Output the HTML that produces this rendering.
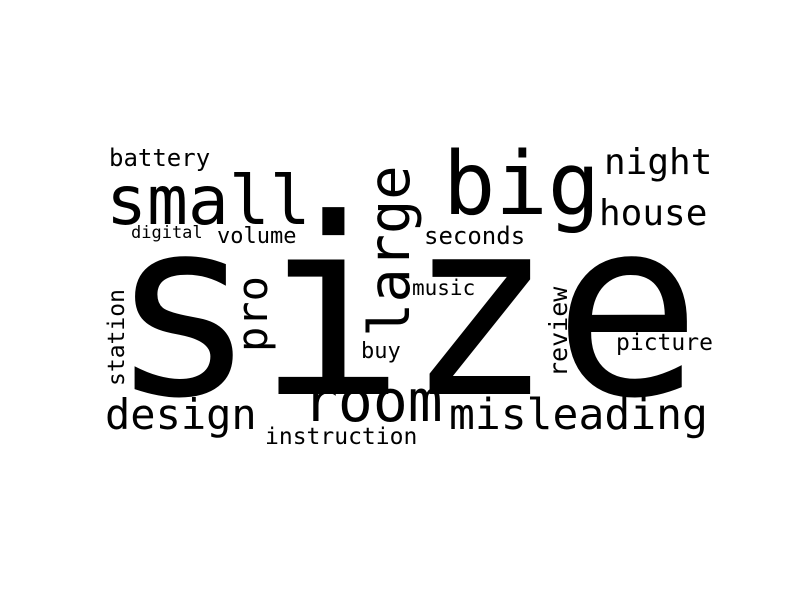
<!DOCTYPE html>
<html><head><meta charset="utf-8"><style>
html,body{margin:0;padding:0;background:#fff;width:800px;height:600px;overflow:hidden}
svg text{font-family:"DejaVu Sans Mono","Liberation Mono",monospace;fill:#000}
</style></head><body>
<svg width="800" height="600">
<rect width="800" height="600" fill="#fff"/>
<text x="109" y="394" font-size="246">size</text>
<text x="106" y="224" font-size="68">small</text>
<text x="443" y="214" font-size="87">big</text>
<text x="604" y="174" font-size="36">night</text>
<text x="599" y="225" font-size="36">house</text>
<text x="109" y="166" font-size="24">battery</text>
<text x="131" y="238" font-size="17">digital</text>
<text x="217" y="243" font-size="22">volume</text>
<text x="424" y="244" font-size="24">seconds</text>
<text transform="translate(409,337) rotate(-90)" font-size="57">large</text>
<text transform="translate(267,352) rotate(-90)" font-size="42">pro</text>
<text x="412" y="295" font-size="21">music</text>
<text x="361" y="358" font-size="22">buy</text>
<text transform="translate(567,377) rotate(-90)" font-size="25">review</text>
<text x="616" y="350" font-size="23">picture</text>
<text transform="translate(124,386) rotate(-90)" font-size="23">station</text>
<text x="105" y="429" font-size="42">design</text>
<text x="303" y="421" font-size="58">room</text>
<text x="449" y="429" font-size="43">misleading</text>
<text x="265" y="444" font-size="23">instruction</text>
</svg>
</body></html>
